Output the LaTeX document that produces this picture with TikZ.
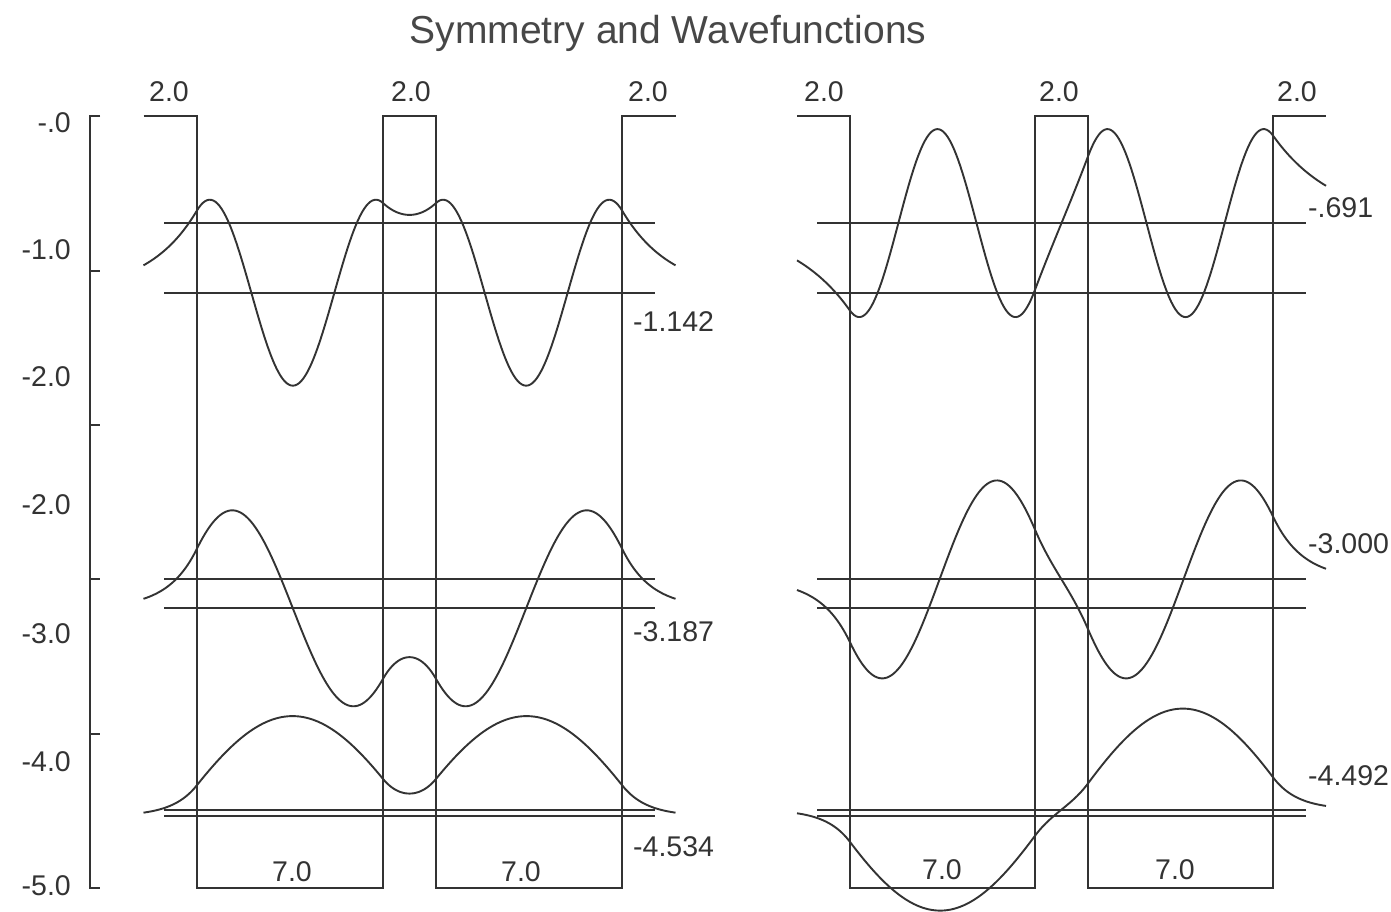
\documentclass[tikz,border=0pt]{standalone}
\usepackage{fontspec}
\setmainfont{Liberation Sans}
\definecolor{ink}{HTML}{333333}
\definecolor{tink}{HTML}{474747}
\newcommand\wavefn[7]{% #1 E, #2 parity (0 even, 1 odd), #3 sign, #4 amplitude, #5 centre x, #6 px per unit, #7 baseline y
  \pgfmathsetmacro\wq{sqrt(-(#1)/3.81)}%
  \pgfmathsetmacro\wk{sqrt(((#1)+5)/3.81)}%
  \ifnum#2=0
    \pgfmathsetmacro\wA{cosh(\wq)}%
    \pgfmathsetmacro\wB{\wq*sinh(\wq)/\wk}%
    \def\whyp{cosh}\def\wps{1}%
  \else
    \pgfmathsetmacro\wA{sinh(\wq)}%
    \pgfmathsetmacro\wB{\wq*cosh(\wq)/\wk}%
    \def\whyp{sinh}\def\wps{-1}%
  \fi
  \pgfmathsetmacro\wN{sqrt(\wA*\wA+\wB*\wB)}%
  \pgfmathsetmacro\wP{\wA*cos(deg(7*\wk))+\wB*sin(deg(7*\wk))}%
  \pgfmathsetmacro\wfa{(#3)/\wN}%
  \pgfmathsetmacro\wfb{(#3)*\wps/\wN}%
  \begin{scope}[shift={(#5,#7)},x=#6pt,y=#4pt]
    \draw[wave]
      plot[domain=-10:-8,samples=25] (\x,{\wfb*\wP*exp(\wq*(\x+8))})
      -- plot[domain=-8:-1,samples=90] (\x,{\wfb*(\wA*cos(deg(\wk*(-\x-1)))+\wB*sin(deg(\wk*(-\x-1))))})
      -- plot[domain=-1:1,samples=25] (\x,{\wfa*\whyp(\wq*\x)})
      -- plot[domain=1:8,samples=90] (\x,{\wfa*(\wA*cos(deg(\wk*(\x-1)))+\wB*sin(deg(\wk*(\x-1))))})
      -- plot[domain=8:10,samples=25] (\x,{\wfa*\wP*exp(-\wq*(\x-8))});
  \end{scope}}
\begin{document}
\begin{tikzpicture}[x=1pt,y=-1pt,
  ln/.style={line width=2pt, draw=ink},
  wave/.style={line width=1.9pt, draw=ink, line join=round},
  lbl/.style={font=\fontsize{28.5}{30}\selectfont, text=ink, inner sep=0pt},
  ttl/.style={font=\fontsize{39}{42}\selectfont, text=tink, inner sep=0pt}]
\useasboundingbox[fill=white] (0,0) rectangle (1391,912);

% title
\node[ttl] (title) at (668,33) {Symmetry and Wavefunctions};

% energy axis
\draw[ln] (100,116.5) -- (90,116.5) -- (90,888) -- (100,888);
\foreach \yy in {270.8,425.1,579.4,733.7} \draw[ln] (90,\yy) -- (100,\yy);
\node[lbl,anchor=east] (a0) at (71,123) {-.0};
\node[lbl,anchor=east] (a1) at (71,250) {-1.0};
\node[lbl,anchor=east] (a2) at (71,377) {-2.0};
\node[lbl,anchor=east] (a3) at (71,505) {-2.0};
\node[lbl,anchor=east] (a4) at (71,634) {-3.0};
\node[lbl,anchor=east] (a5) at (71,762) {-4.0};
\node[lbl,anchor=east] (a6) at (71,886) {-5.0};

% potentials
\draw[ln] (143.5,116.5) -- (196.7,116.5) -- (196.7,888) -- (382.9,888) -- (382.9,116.5)
  -- (436.1,116.5) -- (436.1,888) -- (622.3,888) -- (622.3,116.5) -- (675.5,116.5);
\draw[ln] (797,116.5) -- (849.9,116.5) -- (849.9,888) -- (1035.05,888) -- (1035.05,116.5)
  -- (1087.95,116.5) -- (1087.95,888) -- (1273.1,888) -- (1273.1,116.5) -- (1326,116.5);

% energy levels
\foreach \ee in {0.691,1.142,3.000,3.187,4.492,4.534}{
  \draw[ln] (164,116.5+154.3*\ee) -- (655,116.5+154.3*\ee);
  \draw[ln] (817,116.5+154.3*\ee) -- (1306,116.5+154.3*\ee);
}

% barrier / well labels
\node[lbl] (b1) at (169,92) {2.0};
\node[lbl] (b2) at (411,92) {2.0};
\node[lbl] (b3) at (648,92) {2.0};
\node[lbl] (b4) at (824,92) {2.0};
\node[lbl] (b5) at (1059,92) {2.0};
\node[lbl] (b6) at (1297,92) {2.0};
\node[lbl] (w1) at (292,872) {7.0};
\node[lbl] (w2) at (521,872) {7.0};
\node[lbl] (w3) at (942,870) {7.0};
\node[lbl] (w4) at (1175,870) {7.0};

% energy labels
\node[lbl,anchor=west] (e1) at (633,322) {-1.142};
\node[lbl,anchor=west] (e2) at (633,632) {-3.187};
\node[lbl,anchor=west] (e3) at (633,847) {-4.534};
\node[lbl,anchor=west] (e4) at (1308,208) {-.691};
\node[lbl,anchor=west] (e5) at (1308,544) {-3.000};
\node[lbl,anchor=west] (e6) at (1308,776) {-4.492};

% wavefunctions (even, left)
\wavefn{-1.142}{0}{1}{93}{409.5}{26.6}{292.7}
\wavefn{-3.187}{0}{-1}{98}{409.5}{26.6}{608.3}
\wavefn{-4.534}{0}{1}{100}{409.5}{26.6}{816.1}
% wavefunctions (odd, right)
\wavefn{-0.691}{1}{1}{94}{1061.5}{26.45}{223.1}
\wavefn{-3.000}{1}{-1}{99}{1061.5}{26.45}{579.4}
\wavefn{-4.492}{1}{1}{101}{1061.5}{26.45}{809.6}
\end{tikzpicture}
\end{document}
